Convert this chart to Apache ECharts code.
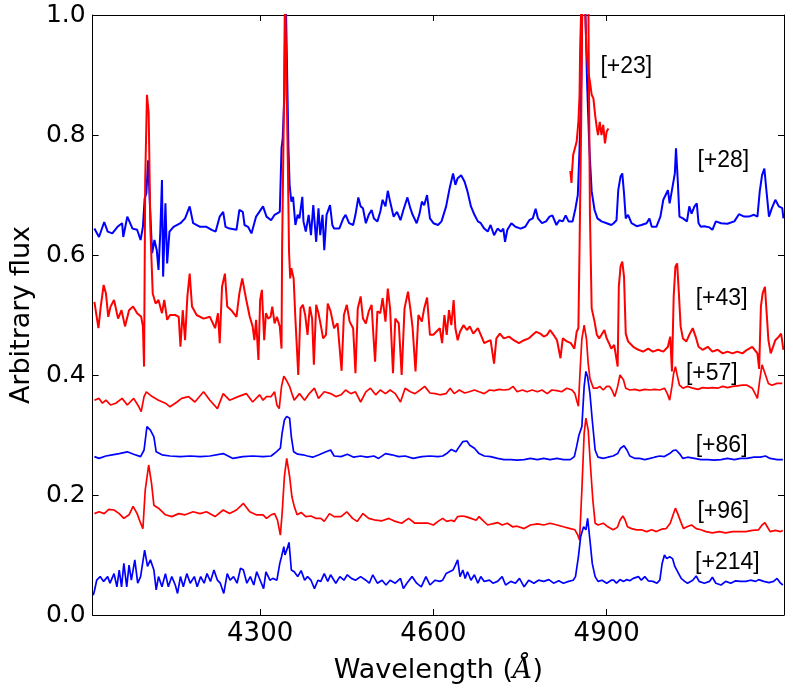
<!DOCTYPE html>
<html>
<head>
<meta charset="utf-8">
<title>Spectra</title>
<script src="https://cdn.jsdelivr.net/npm/echarts@6/dist/echarts.min.js"></script>
<style>
  html, body { margin: 0; padding: 0; background: #fff; }
  #chart { width: 793px; height: 690px; }
</style>
</head>
<body>
<div id="chart"></div>
<script>
// ---------- data: [wavelength (A), flux] ----------
var xTicks = [4300, 4600, 4900];
var yTicks = [0, 0.2, 0.4, 0.6, 0.8, 1.0];

var spec28 = [
  [4013,0.644],[4021,0.630],[4030,0.655],[4036,0.639],[4044,0.636],[4053,0.647],[4061,0.653],[4063,0.630],
  [4070,0.664],[4079,0.644],[4087,0.642],[4093,0.625],[4097,0.647],[4100,0.694],[4103,0.703],[4106,0.758],
  [4109,0.686],[4113,0.603],[4117,0.625],[4121,0.608],[4124,0.575],[4127,0.636],[4130,0.725],[4132,0.564],
  [4136,0.686],[4139,0.586],[4143,0.639],[4150,0.647],[4162,0.653],[4170,0.661],[4178,0.681],[4184,0.653],
  [4196,0.647],[4207,0.647],[4216,0.642],[4223,0.639],[4230,0.664],[4236,0.672],[4240,0.647],[4247,0.644],
  [4259,0.642],[4264,0.675],[4270,0.672],[4273,0.650],[4279,0.647],[4285,0.636],[4293,0.664],[4305,0.681],
  [4311,0.664],[4319,0.658],[4325,0.667],[4334,0.672],[4337,0.778],[4339,0.794],[4342,0.867],[4344,1.05],
  [4346,1.05],[4349,0.778],[4351,0.717],[4354,0.689],[4357,0.697],[4361,0.650],[4365,0.667],[4368,0.661],
  [4373,0.697],[4375,0.656],[4379,0.639],[4384,0.667],[4388,0.633],[4392,0.683],[4397,0.622],[4401,0.678],
  [4404,0.633],[4408,0.667],[4411,0.608],[4415,0.667],[4421,0.683],[4425,0.650],[4428,0.644],[4437,0.644],
  [4444,0.661],[4448,0.667],[4454,0.653],[4461,0.650],[4465,0.667],[4470,0.696],[4474,0.681],[4478,0.678],
  [4483,0.653],[4488,0.667],[4493,0.675],[4497,0.661],[4503,0.656],[4508,0.672],[4512,0.692],[4517,0.681],
  [4521,0.707],[4525,0.689],[4531,0.664],[4537,0.672],[4543,0.658],[4548,0.675],[4555,0.696],[4560,0.678],
  [4564,0.667],[4571,0.653],[4576,0.669],[4580,0.689],[4584,0.683],[4589,0.700],[4594,0.661],[4600,0.653],
  [4608,0.650],[4614,0.656],[4622,0.681],[4628,0.711],[4634,0.736],[4638,0.717],[4642,0.728],[4648,0.733],
  [4654,0.722],[4659,0.706],[4665,0.681],[4671,0.667],[4677,0.656],[4682,0.653],[4688,0.644],[4694,0.639],
  [4699,0.650],[4705,0.633],[4711,0.644],[4717,0.639],[4721,0.644],[4724,0.622],[4728,0.642],[4735,0.653],
  [4742,0.647],[4751,0.644],[4759,0.647],[4766,0.658],[4772,0.661],[4777,0.677],[4781,0.661],[4788,0.653],
  [4795,0.656],[4801,0.664],[4806,0.666],[4813,0.650],[4818,0.658],[4824,0.656],[4829,0.666],[4834,0.656],
  [4841,0.656],[4846,0.678],[4850,0.700],[4853,0.778],[4856,0.889],[4858,1.05],[4862,1.05],[4866,0.889],
  [4870,0.778],[4874,0.706],[4879,0.675],[4884,0.661],[4891,0.656],[4900,0.653],[4908,0.650],[4912,0.653],
  [4917,0.658],[4920,0.708],[4924,0.731],[4927,0.736],[4930,0.703],[4933,0.661],[4937,0.667],[4943,0.653],
  [4952,0.648],[4960,0.650],[4969,0.653],[4974,0.661],[4978,0.647],[4986,0.647],[4993,0.664],[4998,0.692],
  [5002,0.700],[5006,0.708],[5009,0.686],[5013,0.708],[5018,0.736],[5020,0.778],[5023,0.725],[5026,0.664],
  [5032,0.661],[5039,0.656],[5043,0.681],[5047,0.669],[5052,0.681],[5056,0.686],[5059,0.653],[5063,0.647],
  [5069,0.648],[5078,0.646],[5083,0.642],[5089,0.656],[5098,0.653],[5109,0.652],[5121,0.656],[5129,0.668],
  [5138,0.664],[5146,0.664],[5155,0.667],[5161,0.664],[5165,0.706],[5169,0.733],[5173,0.744],[5177,0.703],
  [5181,0.664],[5186,0.678],[5192,0.692],[5198,0.681],[5204,0.678],[5206,0.661]
];

var spec43 = [
  [4013,0.522],[4020,0.478],[4024,0.514],[4029,0.550],[4033,0.536],[4037,0.497],[4041,0.514],[4047,0.525],
  [4054,0.494],[4060,0.508],[4066,0.481],[4073,0.508],[4080,0.514],[4087,0.503],[4094,0.497],[4097,0.481],
  [4099,0.414],[4101,0.725],[4104,0.867],[4107,0.836],[4110,0.642],[4114,0.536],[4119,0.519],[4124,0.525],
  [4130,0.503],[4134,0.525],[4139,0.492],[4144,0.500],[4153,0.500],[4159,0.497],[4162,0.447],[4166,0.508],
  [4170,0.458],[4174,0.531],[4178,0.569],[4182,0.514],[4190,0.500],[4202,0.494],[4213,0.497],[4222,0.478],
  [4227,0.503],[4230,0.453],[4234,0.547],[4239,0.569],[4243,0.514],[4250,0.508],[4259,0.497],[4264,0.536],
  [4269,0.561],[4276,0.525],[4282,0.497],[4287,0.481],[4290,0.458],[4293,0.492],[4297,0.425],[4300,0.525],
  [4303,0.542],[4307,0.458],[4310,0.503],[4314,0.494],[4318,0.497],[4321,0.514],[4325,0.486],[4329,0.497],
  [4334,0.481],[4337,0.444],[4338,0.611],[4341,0.833],[4343,1.05],[4346,1.05],[4348,0.750],[4350,0.606],
  [4352,0.561],[4354,0.578],[4358,0.561],[4361,0.494],[4366,0.400],[4370,0.511],[4374,0.517],[4378,0.500],
  [4382,0.467],[4386,0.514],[4390,0.494],[4393,0.417],[4397,0.517],[4401,0.503],[4405,0.483],[4409,0.461],
  [4414,0.467],[4417,0.519],[4422,0.506],[4428,0.478],[4434,0.486],[4441,0.407],[4445,0.500],[4450,0.517],
  [4455,0.489],[4461,0.478],[4465,0.403],[4469,0.511],[4474,0.531],[4478,0.494],[4483,0.486],[4488,0.506],
  [4493,0.517],[4495,0.483],[4499,0.422],[4503,0.506],[4508,0.503],[4512,0.528],[4517,0.489],[4521,0.544],
  [4525,0.511],[4530,0.403],[4534,0.494],[4540,0.486],[4545,0.400],[4550,0.511],[4556,0.539],[4560,0.511],
  [4564,0.478],[4569,0.406],[4574,0.500],[4580,0.489],[4584,0.511],[4589,0.529],[4594,0.467],[4600,0.467],
  [4605,0.472],[4611,0.478],[4615,0.453],[4619,0.500],[4623,0.467],[4627,0.508],[4631,0.483],[4635,0.525],
  [4638,0.478],[4642,0.458],[4646,0.472],[4652,0.483],[4658,0.475],[4663,0.481],[4669,0.469],[4677,0.478],
  [4682,0.467],[4688,0.453],[4694,0.456],[4699,0.458],[4705,0.419],[4709,0.461],[4715,0.469],[4722,0.461],
  [4731,0.464],[4739,0.458],[4748,0.453],[4757,0.458],[4765,0.461],[4772,0.467],[4778,0.472],[4785,0.469],
  [4791,0.464],[4797,0.467],[4802,0.475],[4808,0.467],[4814,0.458],[4820,0.428],[4824,0.461],[4831,0.456],
  [4838,0.453],[4844,0.444],[4848,0.472],[4851,0.478],[4853,0.611],[4856,0.833],[4858,1.05],[4868,1.05],
  [4871,0.667],[4874,0.511],[4879,0.489],[4883,0.467],[4887,0.461],[4891,0.467],[4896,0.475],[4900,0.461],
  [4904,0.453],[4908,0.444],[4913,0.450],[4916,0.447],[4919,0.414],[4921,0.547],[4924,0.581],[4927,0.589],
  [4930,0.564],[4933,0.469],[4937,0.456],[4946,0.447],[4955,0.442],[4963,0.439],[4972,0.444],[4980,0.439],
  [4989,0.442],[4998,0.439],[5006,0.447],[5010,0.464],[5013,0.406],[5016,0.531],[5019,0.581],[5022,0.586],
  [5025,0.536],[5028,0.481],[5032,0.461],[5038,0.456],[5044,0.469],[5049,0.478],[5054,0.464],[5059,0.447],
  [5066,0.442],[5075,0.447],[5083,0.439],[5092,0.442],[5101,0.436],[5109,0.439],[5118,0.436],[5126,0.439],
  [5135,0.436],[5143,0.442],[5152,0.447],[5161,0.436],[5164,0.410],[5167,0.514],[5170,0.536],[5174,0.547],
  [5177,0.503],[5180,0.458],[5184,0.436],[5188,0.447],[5192,0.458],[5198,0.464],[5202,0.469],[5206,0.442]
];

var spec23 = [
  [4837,0.740],[4839,0.720],[4840,0.739],[4842,0.767],[4845,0.778],[4848,0.789],[4851,0.822],[4853,0.867],
  [4854,0.944],[4857,1.05],[4861,1.05],[4865,0.944],[4868,0.906],[4871,0.889],[4874,0.867],[4877,0.861],
  [4880,0.833],[4883,0.811],[4885,0.800],[4888,0.822],[4891,0.800],[4894,0.817],[4897,0.786],[4900,0.806],
  [4903,0.811]
];

var spec57 = [
  [4013,0.358],[4021,0.361],[4027,0.353],[4033,0.358],[4041,0.350],[4050,0.353],[4061,0.361],[4070,0.350],
  [4081,0.361],[4090,0.347],[4094,0.339],[4099,0.364],[4103,0.372],[4113,0.364],[4124,0.358],[4136,0.353],
  [4144,0.347],[4156,0.355],[4164,0.361],[4176,0.364],[4187,0.355],[4202,0.372],[4213,0.358],[4226,0.344],
  [4236,0.369],[4247,0.358],[4262,0.364],[4276,0.369],[4287,0.355],[4299,0.367],[4305,0.358],[4311,0.364],
  [4319,0.364],[4325,0.372],[4329,0.350],[4333,0.344],[4337,0.381],[4341,0.398],[4345,0.392],[4351,0.381],
  [4355,0.369],[4359,0.358],[4368,0.369],[4377,0.358],[4385,0.369],[4394,0.378],[4401,0.361],[4411,0.372],
  [4422,0.369],[4431,0.364],[4440,0.367],[4448,0.375],[4457,0.369],[4465,0.372],[4474,0.355],[4483,0.372],
  [4491,0.378],[4500,0.367],[4508,0.375],[4517,0.369],[4525,0.375],[4534,0.369],[4543,0.355],[4551,0.378],
  [4560,0.372],[4568,0.369],[4577,0.375],[4585,0.381],[4594,0.370],[4603,0.369],[4611,0.367],[4622,0.369],
  [4629,0.378],[4636,0.369],[4645,0.375],[4654,0.370],[4662,0.372],[4671,0.375],[4679,0.372],[4688,0.369],
  [4697,0.375],[4705,0.374],[4714,0.376],[4722,0.375],[4731,0.376],[4738,0.381],[4745,0.372],[4754,0.375],
  [4762,0.372],[4771,0.375],[4780,0.372],[4788,0.375],[4797,0.369],[4805,0.375],[4814,0.374],[4822,0.372],
  [4831,0.378],[4840,0.375],[4845,0.369],[4848,0.358],[4851,0.348],[4854,0.408],[4857,0.460],[4861,0.483],
  [4865,0.460],[4868,0.419],[4871,0.394],[4877,0.378],[4883,0.378],[4888,0.381],[4894,0.375],[4900,0.381],
  [4905,0.381],[4909,0.375],[4914,0.364],[4919,0.381],[4923,0.400],[4926,0.403],[4929,0.392],[4933,0.378],
  [4940,0.375],[4949,0.376],[4957,0.374],[4966,0.376],[4975,0.375],[4983,0.376],[4992,0.375],[5000,0.378],
  [5005,0.369],[5009,0.358],[5013,0.381],[5016,0.403],[5019,0.414],[5022,0.400],[5026,0.383],[5032,0.378],
  [5040,0.381],[5049,0.378],[5058,0.376],[5066,0.379],[5075,0.378],[5083,0.379],[5092,0.378],[5101,0.381],
  [5109,0.379],[5118,0.381],[5126,0.382],[5135,0.383],[5143,0.383],[5152,0.378],[5158,0.367],[5161,0.361],
  [5165,0.392],[5169,0.417],[5174,0.403],[5180,0.386],[5186,0.383],[5195,0.386],[5204,0.386]
];

var spec86 = [
  [4013,0.264],[4021,0.261],[4033,0.265],[4044,0.267],[4056,0.269],[4070,0.272],[4081,0.268],[4093,0.264],
  [4099,0.275],[4104,0.314],[4110,0.308],[4116,0.297],[4120,0.272],[4130,0.267],[4144,0.265],[4162,0.264],
  [4179,0.265],[4196,0.264],[4213,0.265],[4236,0.269],[4253,0.261],[4270,0.264],[4287,0.265],[4305,0.264],
  [4319,0.265],[4328,0.272],[4335,0.278],[4338,0.303],[4342,0.325],[4346,0.331],[4351,0.328],[4354,0.297],
  [4358,0.272],[4365,0.268],[4374,0.267],[4382,0.265],[4391,0.263],[4402,0.267],[4414,0.272],[4422,0.275],
  [4428,0.265],[4440,0.264],[4451,0.268],[4462,0.263],[4474,0.265],[4485,0.263],[4497,0.265],[4505,0.261],
  [4517,0.269],[4528,0.267],[4540,0.264],[4551,0.265],[4565,0.261],[4580,0.264],[4594,0.265],[4608,0.264],
  [4616,0.265],[4623,0.269],[4631,0.276],[4639,0.272],[4645,0.281],[4651,0.289],[4658,0.290],[4663,0.283],
  [4671,0.278],[4679,0.269],[4688,0.265],[4699,0.264],[4711,0.261],[4722,0.259],[4734,0.259],[4745,0.258],
  [4757,0.259],[4768,0.261],[4780,0.259],[4791,0.261],[4802,0.259],[4814,0.261],[4825,0.259],[4837,0.259],
  [4844,0.264],[4848,0.281],[4852,0.300],[4857,0.314],[4861,0.381],[4864,0.406],[4867,0.397],[4871,0.369],
  [4875,0.325],[4880,0.275],[4885,0.263],[4894,0.261],[4902,0.263],[4911,0.265],[4919,0.269],[4924,0.278],
  [4930,0.282],[4935,0.275],[4940,0.265],[4949,0.261],[4957,0.261],[4966,0.259],[4975,0.261],[4983,0.263],
  [4992,0.265],[5000,0.264],[5009,0.269],[5015,0.274],[5020,0.275],[5026,0.269],[5032,0.261],[5040,0.263],
  [5052,0.261],[5063,0.259],[5075,0.259],[5086,0.258],[5098,0.259],[5109,0.261],[5121,0.259],[5132,0.261],
  [5143,0.261],[5155,0.263],[5166,0.263],[5175,0.265],[5183,0.261],[5195,0.259],[5205,0.259]
];

var spec96 = [
  [4013,0.169],[4021,0.172],[4030,0.169],[4038,0.176],[4047,0.175],[4056,0.169],[4064,0.161],[4073,0.167],
  [4080,0.181],[4087,0.169],[4093,0.153],[4097,0.144],[4101,0.208],[4107,0.250],[4112,0.219],[4116,0.183],
  [4124,0.178],[4136,0.167],[4147,0.164],[4159,0.169],[4170,0.167],[4184,0.172],[4196,0.169],[4207,0.172],
  [4222,0.164],[4236,0.175],[4247,0.169],[4259,0.175],[4271,0.186],[4282,0.172],[4293,0.167],[4305,0.167],
  [4311,0.161],[4319,0.167],[4325,0.169],[4330,0.158],[4335,0.133],[4338,0.169],[4342,0.231],[4346,0.261],
  [4351,0.231],[4355,0.197],[4359,0.181],[4364,0.167],[4371,0.171],[4379,0.164],[4388,0.165],[4397,0.161],
  [4405,0.161],[4411,0.156],[4420,0.169],[4428,0.164],[4440,0.164],[4450,0.172],[4460,0.161],[4468,0.156],
  [4478,0.169],[4488,0.161],[4500,0.158],[4511,0.157],[4523,0.161],[4534,0.156],[4545,0.153],[4557,0.161],
  [4568,0.153],[4580,0.153],[4591,0.153],[4600,0.150],[4608,0.156],[4616,0.161],[4623,0.156],[4631,0.158],
  [4636,0.156],[4642,0.164],[4650,0.165],[4656,0.164],[4665,0.161],[4674,0.158],[4679,0.164],[4685,0.158],
  [4694,0.150],[4702,0.152],[4711,0.154],[4719,0.150],[4728,0.153],[4737,0.147],[4745,0.148],[4757,0.144],
  [4768,0.150],[4780,0.152],[4791,0.150],[4802,0.153],[4814,0.150],[4825,0.147],[4837,0.144],[4845,0.142],
  [4850,0.133],[4853,0.125],[4857,0.208],[4861,0.303],[4864,0.328],[4868,0.308],[4872,0.247],[4876,0.192],
  [4880,0.153],[4885,0.150],[4894,0.153],[4902,0.147],[4911,0.142],[4915,0.144],[4919,0.147],[4923,0.158],
  [4928,0.165],[4932,0.158],[4936,0.147],[4943,0.144],[4952,0.142],[4960,0.142],[4969,0.139],[4978,0.142],
  [4986,0.139],[4995,0.143],[5003,0.144],[5010,0.153],[5015,0.167],[5019,0.178],[5023,0.169],[5028,0.156],
  [5033,0.144],[5039,0.147],[5047,0.150],[5055,0.144],[5063,0.142],[5072,0.139],[5083,0.137],[5095,0.139],
  [5106,0.137],[5118,0.139],[5129,0.139],[5141,0.139],[5152,0.141],[5163,0.142],[5169,0.150],[5174,0.154],
  [5178,0.147],[5183,0.139],[5192,0.141],[5201,0.139],[5205,0.141]
];

var spec214 = [
  [4011,0.033],[4013,0.040],[4017,0.058],[4023,0.064],[4029,0.056],[4036,0.064],[4040,0.053],[4047,0.069],
  [4052,0.047],[4056,0.075],[4060,0.047],[4064,0.086],[4069,0.047],[4073,0.083],[4077,0.058],[4083,0.092],
  [4088,0.053],[4093,0.064],[4100,0.108],[4105,0.081],[4110,0.092],[4116,0.075],[4120,0.042],[4124,0.064],
  [4130,0.047],[4136,0.069],[4141,0.047],[4147,0.064],[4153,0.050],[4157,0.036],[4162,0.064],[4167,0.047],
  [4173,0.069],[4179,0.053],[4186,0.064],[4191,0.047],[4197,0.064],[4203,0.053],[4208,0.069],[4214,0.056],
  [4220,0.075],[4226,0.058],[4231,0.053],[4237,0.036],[4243,0.069],[4248,0.058],[4254,0.064],[4260,0.053],
  [4266,0.078],[4271,0.075],[4277,0.053],[4283,0.064],[4289,0.050],[4294,0.072],[4300,0.058],[4306,0.044],
  [4310,0.072],[4317,0.058],[4322,0.061],[4329,0.058],[4334,0.086],[4337,0.097],[4341,0.114],[4343,0.100],
  [4347,0.111],[4350,0.121],[4354,0.075],[4359,0.072],[4365,0.064],[4371,0.074],[4377,0.058],[4382,0.064],
  [4388,0.058],[4394,0.044],[4400,0.058],[4405,0.056],[4411,0.069],[4417,0.056],[4422,0.067],[4431,0.053],
  [4438,0.064],[4445,0.058],[4451,0.067],[4458,0.061],[4465,0.058],[4474,0.064],[4483,0.058],[4489,0.053],
  [4495,0.067],[4503,0.053],[4511,0.058],[4518,0.050],[4525,0.058],[4534,0.053],[4543,0.061],[4548,0.044],
  [4554,0.053],[4563,0.064],[4571,0.053],[4579,0.047],[4587,0.064],[4594,0.050],[4603,0.058],[4611,0.056],
  [4616,0.058],[4622,0.069],[4628,0.072],[4634,0.075],[4638,0.083],[4642,0.092],[4646,0.064],[4651,0.075],
  [4655,0.061],[4659,0.072],[4665,0.058],[4671,0.067],[4677,0.053],[4682,0.064],[4688,0.056],[4697,0.058],
  [4703,0.053],[4711,0.056],[4719,0.064],[4725,0.050],[4734,0.056],[4742,0.053],[4749,0.061],[4757,0.047],
  [4765,0.058],[4774,0.053],[4782,0.058],[4791,0.056],[4800,0.059],[4808,0.053],[4817,0.057],[4825,0.053],
  [4834,0.056],[4842,0.058],[4846,0.064],[4851,0.097],[4855,0.131],[4860,0.147],[4864,0.142],[4867,0.161],
  [4871,0.125],[4875,0.086],[4880,0.064],[4885,0.056],[4892,0.058],[4900,0.053],[4908,0.058],[4912,0.058],
  [4917,0.053],[4923,0.059],[4929,0.056],[4935,0.059],[4940,0.057],[4946,0.061],[4955,0.064],[4960,0.058],
  [4966,0.064],[4972,0.057],[4980,0.056],[4987,0.053],[4992,0.058],[4996,0.086],[5000,0.100],[5004,0.094],
  [5009,0.097],[5014,0.094],[5018,0.081],[5023,0.072],[5029,0.061],[5035,0.056],[5040,0.053],[5049,0.058],
  [5055,0.065],[5060,0.056],[5069,0.053],[5078,0.056],[5083,0.063],[5089,0.053],[5098,0.050],[5106,0.056],
  [5115,0.053],[5123,0.057],[5132,0.056],[5141,0.056],[5149,0.058],[5158,0.056],[5163,0.059],[5172,0.056],
  [5181,0.054],[5189,0.056],[5195,0.061],[5201,0.053],[5205,0.050]
];

// epoch labels, placed in data coordinates
var labelText = ['[+23]', '[+28]', '[+43]', '[+57]', '[+86]', '[+96]', '[+214]'];
var labelWave = [4934, 5102, 5099, 5082, 5099, 5102, 5109];
var labelFlux = [0.914, 0.757, 0.528, 0.402, 0.283, 0.172, 0.088];

// ---------- chart ----------
var BLUE = '#0000ff';
var RED = '#ff0000';
var SANS = 'DejaVu Sans';

function spectrum(data, color, width) {
  return {
    type: 'line',
    data: data,
    showSymbol: false,
    symbol: 'none',
    clip: true,
    silent: true,
    lineStyle: { color: color, width: width },
    itemStyle: { color: color }
  };
}

var labelData = labelText.map(function (t, i) {
  return { name: t, value: [labelWave[i], labelFlux[i]] };
});

var frameLine = { show: true, onZero: false, lineStyle: { color: '#000', width: 1 } };
var innerTick = { show: true, inside: true, length: 6, lineStyle: { color: '#000', width: 1 } };
var plainNumber = function (v) { return String(v); };

var chart = echarts.init(document.getElementById('chart'), null, { renderer: 'canvas' });

chart.setOption({
  animation: false,
  backgroundColor: '#fff',
  grid: { left: 87, right: 9, top: 15, bottom: 75 },
  xAxis: [
    {
      type: 'value', position: 'bottom', min: 4010, max: 5207,
      axisLine: frameLine,
      axisTick: Object.assign({ customValues: xTicks }, innerTick),
      axisLabel: {
        customValues: xTicks, margin: 6, formatter: plainNumber,
        color: '#000', fontFamily: SANS, fontSize: 26
      },
      splitLine: { show: false },
      name: 'Wavelength ({i|Å})',
      nameLocation: 'middle', nameGap: 42,
      nameTextStyle: {
        color: '#000', fontFamily: SANS, fontSize: 27,
        rich: { i: { fontFamily: 'DejaVu Serif', fontStyle: 'italic', fontSize: 27, color: '#000' } }
      }
    },
    {
      type: 'value', position: 'top', min: 4010, max: 5207,
      axisLine: frameLine,
      axisTick: Object.assign({ customValues: xTicks }, innerTick),
      axisLabel: { show: false },
      splitLine: { show: false }
    }
  ],
  yAxis: [
    {
      type: 'value', position: 'left', min: 0, max: 1,
      axisLine: frameLine,
      axisTick: Object.assign({ customValues: yTicks }, innerTick),
      axisLabel: {
        customValues: yTicks, margin: 7,
        color: '#000', fontFamily: SANS, fontSize: 25,
        formatter: function (v) { return v.toFixed(1); }
      },
      splitLine: { show: false },
      name: 'Arbitrary flux',
      nameLocation: 'middle', nameGap: 55, nameRotate: 90,
      nameTextStyle: { color: '#000', fontFamily: SANS, fontSize: 27 }
    },
    {
      type: 'value', position: 'right', min: 0, max: 1,
      axisLine: frameLine,
      axisTick: Object.assign({ customValues: yTicks }, innerTick),
      axisLabel: { show: false },
      splitLine: { show: false }
    }
  ],
  series: [
    spectrum(spec28, BLUE, 2),
    spectrum(spec43, RED, 2),
    spectrum(spec23, RED, 2),
    spectrum(spec57, RED, 1.7),
    spectrum(spec86, BLUE, 1.7),
    spectrum(spec96, RED, 1.7),
    spectrum(spec214, BLUE, 1.7),
    {
      type: 'scatter',
      data: labelData,
      symbol: 'circle',
      symbolSize: 1,
      silent: true,
      itemStyle: { color: 'rgba(0,0,0,0)' },
      label: {
        show: true, position: 'inside', formatter: '{b}',
        color: '#000', textBorderWidth: 0, opacity: 1,
        fontFamily: 'Liberation Sans', fontSize: 23
      }
    }
  ]
});
</script>
</body>
</html>
